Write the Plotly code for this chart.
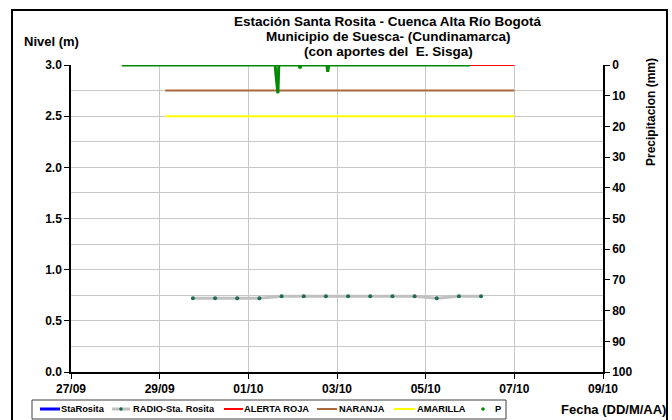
import plotly.graph_objects as go

# ---------------- data ----------------
radio_time = ["2020-09-29 18:00", "2020-09-30 06:00", "2020-09-30 18:00", "2020-10-01 06:00",
              "2020-10-01 18:00", "2020-10-02 06:00", "2020-10-02 18:00", "2020-10-03 06:00",
              "2020-10-03 18:00", "2020-10-04 06:00", "2020-10-04 18:00", "2020-10-05 06:00",
              "2020-10-05 18:00", "2020-10-06 06:00"]
radio_level = [0.72, 0.72, 0.72, 0.72, 0.74, 0.74, 0.74, 0.74, 0.74, 0.74, 0.74, 0.72, 0.74, 0.74]

alert_time = ["2020-09-29 03:00", "2020-10-07 00:00"]
alert_roja = [3.0, 3.0]
alert_naranja = [2.75, 2.75]
alert_amarilla = [2.5, 2.5]

p_time = ["2020-09-28 03:30", "2020-10-01 14:30", "2020-10-01 15:00", "2020-10-01 16:00",
          "2020-10-01 16:30", "2020-10-02 03:30", "2020-10-02 04:00", "2020-10-02 04:30",
          "2020-10-02 18:30", "2020-10-02 19:00", "2020-10-02 19:30", "2020-10-06 00:00"]
p_mm = [0, 0, 3.3, 9.2, 0, 0, 1.1, 0, 0, 2.2, 0, 0]

x_range = ["2020-09-27", "2020-10-09"]
title_lines = ["Estación Santa Rosita - Cuenca Alta Río Bogotá",
               "Municipio de Suesca- (Cundinamarca)",
               "(con aportes del  E. Sisga)"]

# ---------------- figure ----------------
FONT = "Liberation Sans, Arial, sans-serif"
L, R, T, B = 71, 69, 65, 48
W, H = 672, 420
PW, PH = W - L - R, H - T - B

def px_x(px):
    return (px - L) / PW

def px_y(py):
    return (H - B - py) / PH

C_BLUE, C_GRAY, C_MARK = "#0000FF", "#C0C0C0", "#1E6B5A"
C_RED, C_BROWN, C_YEL, C_GREEN = "#FF0000", "#A8683A", "#FFFF00", "#008A00"

fig = go.Figure()
fig.add_trace(go.Scatter(x=[None], y=[None], mode="lines", name="StaRosita",
                         line=dict(color=C_BLUE, width=3)))
fig.add_trace(go.Scatter(x=alert_time, y=alert_amarilla, mode="lines", name="AMARILLA",
                         line=dict(color=C_YEL, width=2)))
fig.add_trace(go.Scatter(x=alert_time, y=alert_naranja, mode="lines", name="NARANJA",
                         line=dict(color=C_BROWN, width=2)))
fig.add_trace(go.Scatter(x=alert_time, y=alert_roja, mode="lines", name="ALERTA ROJA",
                         line=dict(color=C_RED, width=2)))
fig.add_trace(go.Scatter(x=radio_time, y=radio_level, mode="lines+markers",
                         name="RADIO-Sta. Rosita",
                         line=dict(color=C_GRAY, width=3),
                         marker=dict(color=C_MARK, size=4)))
fig.add_trace(go.Scatter(x=p_time, y=p_mm, mode="lines", name="P", yaxis="y2",
                         line=dict(color=C_GREEN, width=3)))

annotations = []
for i, t in enumerate(title_lines):
    annotations.append(dict(text="<b>%s</b>" % t, x=px_x(388), y=px_y(22 + 15 * i),
                            xref="paper", yref="paper", showarrow=False,
                            xanchor="center", yanchor="middle",
                            font=dict(size=13.5, family=FONT, color="black")))
annotations.append(dict(text="<b>Nivel (m)</b>", x=px_x(22), y=px_y(42), xref="paper",
                        yref="paper", showarrow=False, xanchor="left", yanchor="middle",
                        font=dict(size=13, family=FONT, color="black")))
annotations.append(dict(text="<b>Precipitacion (mm)</b>", x=px_x(651), y=px_y(112),
                        xref="paper", yref="paper", showarrow=False, textangle=-90,
                        xanchor="center", yanchor="middle",
                        font=dict(size=12, family=FONT, color="black")))
annotations.append(dict(text="<b>Fecha (DD/M/AA)</b>", x=px_x(668), y=px_y(409),
                        xref="paper", yref="paper", showarrow=False, xanchor="right",
                        yanchor="middle",
                        font=dict(size=13, family=FONT, color="black")))

shapes = [dict(type="rect", xref="paper", yref="paper",
               x0=px_x(12), x1=px_x(667), y0=px_y(440), y1=px_y(10),
               line=dict(color="black", width=2), fillcolor="rgba(0,0,0,0)", layer="above")]

# ---- custom legend (compact, like the original) ----
LEG_Y = 409
shapes.append(dict(type="rect", xref="paper", yref="paper",
                   x0=px_x(32), x1=px_x(506), y0=px_y(419), y1=px_y(400),
                   line=dict(color="#404040", width=1), fillcolor="white", layer="above"))
legend_items = [  # (name, color, width, line_x0, line_x1, dot, text_x)
    ("StaRosita", C_BLUE, 3, 40, 60, None, 60),
    ("RADIO-Sta. Rosita", C_GRAY, 3, 112, 130, C_MARK, 132),
    ("ALERTA ROJA", C_RED, 2, 224, 243, None, 243),
    ("NARANJA", C_BROWN, 2, 317, 337, None, 338),
    ("AMARILLA", C_YEL, 2, 394, 415, None, 416),
    ("P", None, 0, 483, 483, C_GREEN, 494),
]
for name, col, lw, x0, x1, dot, tx in legend_items:
    if col is not None:
        shapes.append(dict(type="line", xref="paper", yref="paper",
                           x0=px_x(x0), x1=px_x(x1), y0=px_y(LEG_Y), y1=px_y(LEG_Y),
                           line=dict(color=col, width=lw), layer="above"))
    if dot is not None:
        cx = (x0 + x1) / 2
        shapes.append(dict(type="circle", xref="paper", yref="paper",
                           x0=px_x(cx - 1.5), x1=px_x(cx + 1.5),
                           y0=px_y(LEG_Y + 1.5), y1=px_y(LEG_Y - 1.5),
                           line=dict(color=dot, width=0.5), fillcolor=dot, layer="above"))
    annotations.append(dict(text="<b>%s</b>" % name, x=px_x(tx), y=px_y(LEG_Y),
                            xref="paper", yref="paper", showarrow=False,
                            xanchor="left", yanchor="middle", xshift=-1,
                            font=dict(size=9.3, family=FONT, color="black")))

fig.update_layout(
    width=W, height=H,
    margin=dict(l=L, r=R, t=T, b=B, autoexpand=False),
    paper_bgcolor="white", plot_bgcolor="white",
    font=dict(family=FONT, size=12, color="black"),
    showlegend=False,
    xaxis=dict(type="date", range=x_range, dtick=2 * 86400000, tick0="2020-09-27",
               tickformat="%d/%m", showgrid=True, gridcolor="#C8C8C8", gridwidth=1,
               showline=True, linecolor="black", linewidth=1.5, ticks="outside",
               ticklen=5, tickcolor="black", zeroline=False, automargin=False,
               tickfont=dict(size=12, family=FONT, weight="bold")),
    yaxis=dict(range=[0, 3.0], dtick=0.5, tickformat=".1f", showgrid=True,
               gridcolor="#C8C8C8", gridwidth=1,
               minor=dict(dtick=0.25, showgrid=True, gridcolor="#C8C8C8", gridwidth=1),
               showline=True, linecolor="black", linewidth=1.5, ticks="outside",
               ticklen=5, tickcolor="black", zeroline=False, automargin=False,
               tickfont=dict(size=12, family=FONT, weight="bold")),
    yaxis2=dict(range=[100, 0], dtick=10, overlaying="y", side="right", showgrid=False,
                showline=True, linecolor="black", linewidth=1.5, ticks="outside",
                ticklen=5, tickcolor="black", zeroline=False, automargin=False,
                tickfont=dict(size=12, family=FONT, weight="bold")),
    annotations=annotations,
    shapes=shapes,
)

fig.write_html("out.html", config={"displayModeBar": False},
               post_script="document.body.style.margin='0';document.body.style.overflow='hidden';")
